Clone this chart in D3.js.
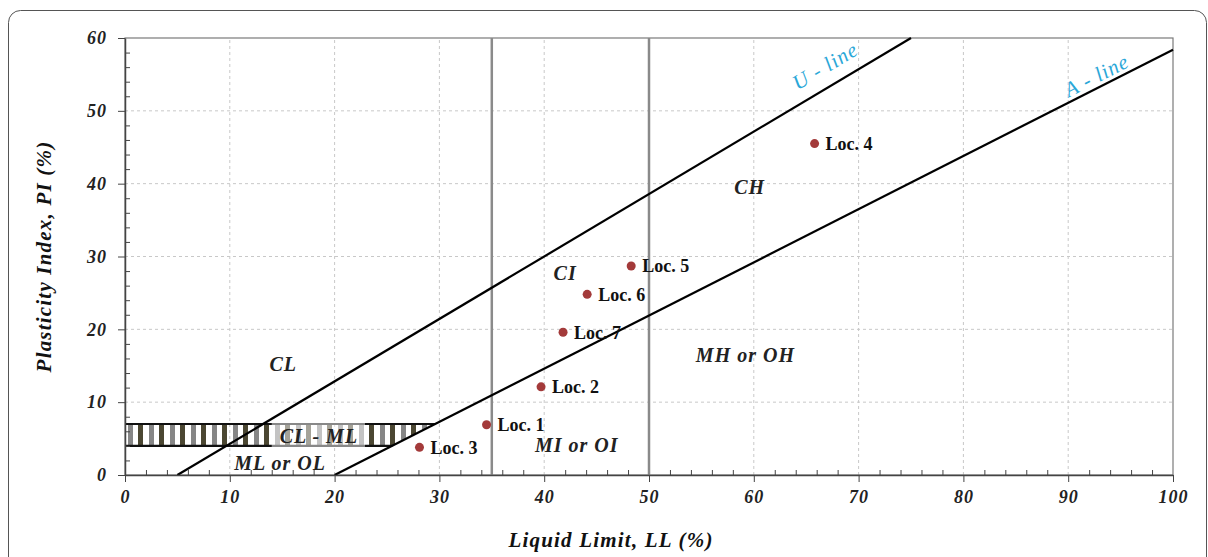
<!DOCTYPE html>
<html lang="en">
<head>
    <meta charset="UTF-8">
    <title>Plasticity Chart</title>
    <script src="https://d3js.org/d3.v7.min.js"></script>
    <style>
        body { margin: 0; background: #fff; }
        .tick-label { font-family: 'Liberation Serif', serif; font-style: italic; font-weight: bold; font-size: 18px; fill: #222; letter-spacing: 1px; }
        .zone { font-family: 'Liberation Serif', serif; font-style: italic; font-weight: bold; font-size: 20px; fill: #222; letter-spacing: 1px; }
        .loc { font-family: 'Liberation Serif', serif; font-weight: bold; font-size: 18px; fill: #111; }
        .line-label { font-family: 'Liberation Serif', serif; font-style: italic; font-size: 21px; fill: #2aa7d8; letter-spacing: 1px; }
        .axis-title { font-family: 'Liberation Serif', serif; font-style: italic; font-weight: bold; font-size: 21px; fill: #111; letter-spacing: 1.2px; }
    </style>
</head>
<body>
<div id="chart"></div>
<script>
    // sample points
    const locNames = ["Loc. 1", "Loc. 2", "Loc. 3", "Loc. 4", "Loc. 5", "Loc. 6", "Loc. 7"];
    const locLL = [34.5, 39.7, 28.1, 65.8, 48.3, 44.1, 41.8];
    const locPI = [6.9, 12.1, 3.8, 45.5, 28.7, 24.8, 19.6];

    // reference lines
    const uLine = [[5, 0], [75, 60]];
    const aLine = [[20, 0], [100, 58.4]];
    const llLimits = [35, 50];
    const hatchPoly = [[0, 4], [0, 7], [29.6, 7], [25.5, 4]];

    // zone labels
    const zoneNames = ["CL", "CL - ML", "ML or OL", "CI", "CH", "MH or OH", "MI or OI"];
    const zoneLL = [15.1, 18.5, 14.8, 42.0, 59.6, 59.2, 43.1];
    const zonePI = [15.2, 5.4, 1.6, 27.8, 39.5, 16.5, 4.1];

    const xTicks = d3.range(0, 101, 10);
    const yTicks = d3.range(0, 61, 10);

    const W = 1208, H = 557;
    const svg = d3.select("#chart").append("svg").attr("width", W).attr("height", H);

    // outer frame
    svg.append("rect")
        .attr("x", 8.5).attr("y", 10.5)
        .attr("width", 1198).attr("height", 600)
        .attr("rx", 12)
        .attr("fill", "none").attr("stroke", "#555").attr("stroke-width", 1);

    const x = d3.scaleLinear().domain([0, 100]).range([125, 1173]);
    const y = d3.scaleLinear().domain([0, 60]).range([475, 38]);

    // hatch pattern
    const defs = svg.append("defs");
    const pat = defs.append("pattern")
        .attr("id", "hatch").attr("patternUnits", "userSpaceOnUse")
        .attr("x", 128).attr("width", 21).attr("height", 10);
    pat.append("rect").attr("x", 0).attr("width", 5).attr("height", 10).attr("fill", "#868686");
    pat.append("rect").attr("x", 10).attr("width", 5).attr("height", 10).attr("fill", "#4b4732");

    // grid
    svg.append("g").selectAll("line").data(xTicks.slice(1, -1)).join("line")
        .attr("x1", d => x(d)).attr("x2", d => x(d))
        .attr("y1", y(0)).attr("y2", y(60))
        .attr("stroke", "#c8c8c8").attr("stroke-dasharray", "3,3");
    svg.append("g").selectAll("line").data(yTicks.slice(1, -1)).join("line")
        .attr("x1", x(0)).attr("x2", x(100))
        .attr("y1", d => y(d)).attr("y2", d => y(d))
        .attr("stroke", "#c8c8c8").attr("stroke-dasharray", "3,3");

    // plot border
    svg.append("rect")
        .attr("x", x(0)).attr("y", y(60))
        .attr("width", x(100) - x(0)).attr("height", y(0) - y(60))
        .attr("fill", "none").attr("stroke", "#7a7a7a").attr("stroke-width", 1.2);

    const line = d3.line().x(d => x(d[0])).y(d => y(d[1]));

    // CL-ML hatched zone
    svg.append("path").datum(hatchPoly)
        .attr("d", line.curve(d3.curveLinearClosed))
        .attr("fill", "url(#hatch)");
    line.curve(d3.curveLinear);
    svg.append("path").datum([[0, 7], [29.6, 7]]).attr("d", line)
        .attr("stroke", "#111").attr("stroke-width", 2.2).attr("fill", "none");
    svg.append("path").datum([[0, 4], [25.5, 4]]).attr("d", line)
        .attr("stroke", "#111").attr("stroke-width", 2.2).attr("fill", "none");
    // light box behind CL - ML text
    svg.append("rect")
        .attr("x", x(14.0)).attr("y", y(7.2))
        .attr("width", x(22.9) - x(14.0)).attr("height", y(3.8) - y(7.2))
        .attr("fill", "#fff").attr("opacity", 0.5);

    // LL = 35 and LL = 50 limits
    svg.append("g").selectAll("line").data(llLimits).join("line")
        .attr("x1", d => x(d)).attr("x2", d => x(d))
        .attr("y1", y(0)).attr("y2", y(60))
        .attr("stroke", "#8a8a8a").attr("stroke-width", 2.5);

    // U and A lines
    [uLine, aLine].forEach(l => {
        svg.append("path").datum(l).attr("d", line)
            .attr("stroke", "#000").attr("stroke-width", 2.2).attr("fill", "none");
    });

    // line labels, rotated along the lines
    function angleOf(l) {
        const dx = x(l[1][0]) - x(l[0][0]);
        const dy = y(l[1][1]) - y(l[0][1]);
        return Math.atan2(dy, dx) * 180 / Math.PI;
    }
    [["U - line", uLine, 66.8, 56.2], ["A - line", aLine, 92.7, 54.9]].forEach(([t, l, lx, ly]) => {
        svg.append("text").attr("class", "line-label")
            .attr("text-anchor", "middle")
            .attr("transform", `translate(${x(lx)},${y(ly)}) rotate(${angleOf(l)})`)
            .attr("dy", "0.35em")
            .text(t);
    });

    // axes
    const xAxis = svg.append("g").attr("transform", `translate(0,${y(0)})`);
    xAxis.call(d3.axisBottom(x).tickValues(d3.range(0, 101, 2).filter(d => d % 10)).tickSize(-5).tickFormat(""));
    xAxis.call(g => g.select(".domain").remove());
    svg.append("g").attr("transform", `translate(0,${y(0)})`)
        .call(d3.axisBottom(x).tickValues(xTicks).tickSizeInner(7).tickSizeOuter(0).tickPadding(8));
    const yAxis = svg.append("g").attr("transform", `translate(${x(0)},0)`);
    yAxis.call(d3.axisLeft(y).tickValues(d3.range(0, 61, 2).filter(d => d % 10)).tickSize(-5).tickFormat(""));
    yAxis.call(g => g.select(".domain").remove());
    svg.append("g").attr("transform", `translate(${x(0)},0)`)
        .call(d3.axisLeft(y).tickValues(yTicks).tickSizeInner(7).tickSizeOuter(0).tickPadding(11));
    svg.selectAll(".tick line").attr("stroke", "#444");
    svg.selectAll(".domain").attr("stroke", "#444").attr("stroke-width", 1.5);
    svg.selectAll(".tick text").attr("class", "tick-label").attr("font-family", null).attr("font-size", null);

    // zone labels
    svg.append("g").selectAll("text").data(zoneNames).join("text")
        .attr("class", "zone")
        .attr("x", (d, i) => x(zoneLL[i]))
        .attr("y", (d, i) => y(zonePI[i]))
        .attr("dy", "0.35em")
        .attr("text-anchor", "middle")
        .text(d => d);

    // points
    svg.append("g").selectAll("circle").data(locNames).join("circle")
        .attr("cx", (d, i) => x(locLL[i]))
        .attr("cy", (d, i) => y(locPI[i]))
        .attr("r", 4.5)
        .attr("fill", "#a33a3a");
    svg.append("g").selectAll("text").data(locNames).join("text")
        .attr("class", "loc")
        .attr("x", (d, i) => x(locLL[i]) + 11)
        .attr("y", (d, i) => y(locPI[i]))
        .attr("dy", "0.35em")
        .text(d => d);

    // axis titles
    svg.append("text").attr("class", "axis-title")
        .attr("x", 611).attr("y", 540).attr("dy", "0.35em")
        .attr("text-anchor", "middle")
        .text("Liquid Limit, LL (%)");
    svg.append("text").attr("class", "axis-title")
        .attr("transform", `translate(44,${(y(0) + y(60)) / 2}) rotate(-90)`)
        .attr("dy", "0.35em")
        .attr("text-anchor", "middle")
        .text("Plasticity Index, PI (%)");
</script>
</body>
</html>
